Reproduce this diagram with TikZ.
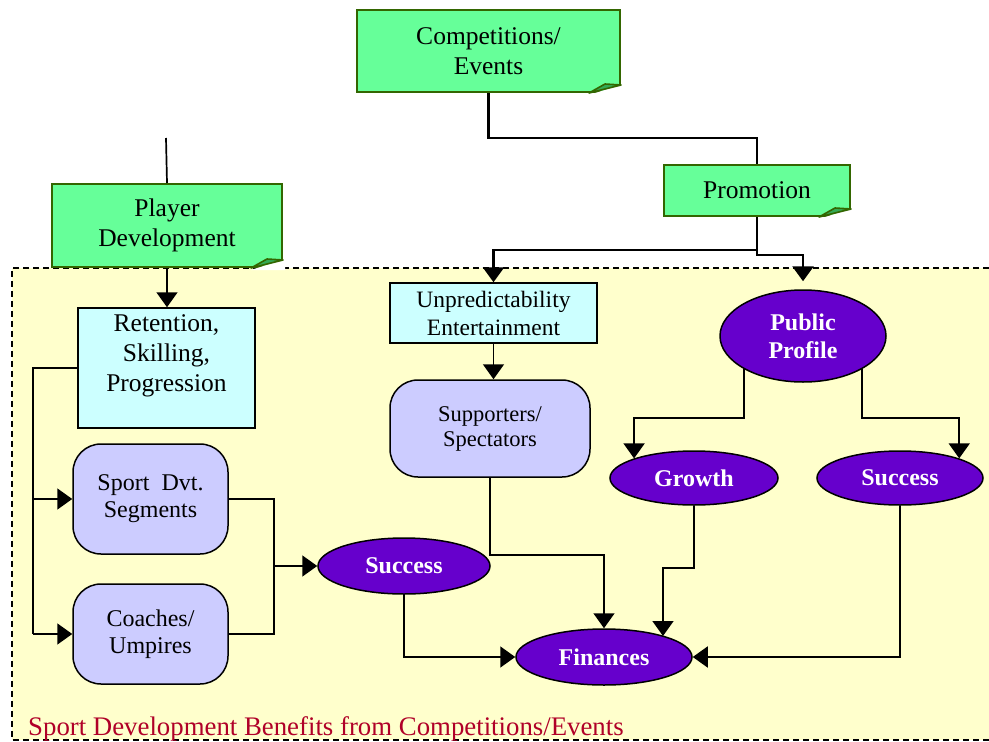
\documentclass[tikz,border=0pt]{standalone}
\usepackage{fontspec}
\setmainfont{Liberation Serif}
\usetikzlibrary{arrows.meta,shapes.geometric,calc}
\definecolor{notegreen}{HTML}{66FF99}
\definecolor{noteedge}{HTML}{336600}
\definecolor{flapgreen}{HTML}{33AA55}
\definecolor{panelyellow}{HTML}{FFFFCC}
\definecolor{cyanbox}{HTML}{CCFFFF}
\definecolor{lilac}{HTML}{CCCCFF}
\definecolor{deepviolet}{HTML}{6600CC}
\definecolor{captionred}{HTML}{B00028}

% dog-eared bottom-right corner of a note box
\newcommand\notefold[1]{%
  \fill[white] ([xshift=-32pt,yshift=-2pt]#1.south east) -- ([xshift=2pt,yshift=-2pt]#1.south east)
    -- ([xshift=2pt,yshift=9pt]#1.south east) -- cycle;
  \draw[noteedge, line width=1.6pt, fill=flapgreen, line join=round]
    ([xshift=-32pt]#1.south east) -- ([yshift=8pt]#1.south east)
    -- ([xshift=-16pt,yshift=9pt]#1.south east) -- cycle;
}

\begin{document}
\begin{tikzpicture}[x=1pt,y=-1pt,
  note/.style={draw=noteedge, fill=notegreen, line width=2pt, inner sep=0pt, align=center,
    font=\fontsize{25.5}{30}\selectfont},
  infobox/.style={draw=black, fill=cyanbox, line width=1.5pt, inner sep=0pt, align=center},
  softbox/.style={draw=black, fill=lilac, line width=1.5pt, rounded corners=28pt, inner sep=0pt,
    align=center},
  oval/.style={ellipse, draw=black, fill=deepviolet, line width=1.5pt, inner sep=0pt, text=white,
    align=center, font=\fontsize{24}{28}\selectfont\bfseries},
  link/.style={line width=1.7pt},
  mainlink/.style={line width=2.8pt},
  tip/.style={-{Triangle[width=21pt,length=15pt]}},
]
\useasboundingbox (0,0) rectangle (989,742);
\fill[white] (0,0) rectangle (989,742);

% shaded panel
\fill[panelyellow] (12,268) rectangle (989,740);
\draw[line width=1.5pt, dash pattern=on 6pt off 4pt] (989,268) -- (12,268) -- (12,740) -- (989,740);

% note boxes
\node[note, minimum width=263pt, minimum height=82pt] (comp) at (488.5,51) {Competitions/\\Events};
\node[note, minimum width=186pt, minimum height=51pt] (promo) at (757,190.5) {Promotion};
\node[note, minimum width=230pt, minimum height=83pt] (player) at (167,225.5) {Player\\Development};
\notefold{comp}
\notefold{promo}
\notefold{player}

% rectangles
\node[infobox, minimum width=177pt, minimum height=120pt] (ret) at (166.5,368) {};
\node[anchor=north, inner sep=0pt, align=center, font=\fontsize{25.5}{30}\selectfont] (rettext)
  at (166.5,314) {Retention,\\Skilling,\\Progression};
\node[infobox, minimum width=207pt, minimum height=60pt, font=\fontsize{23.5}{28}\selectfont] (unpred)
  at (493.5,313) {Unpredictability\\Entertainment};

% rounded boxes
\node[softbox, minimum width=200pt, minimum height=97pt, font=\fontsize{22.5}{25}\selectfont] (supp)
  at (490,428.5) {Supporters/\\Spectators};
\node[softbox, minimum width=155pt, minimum height=110pt, font=\fontsize{24}{27}\selectfont] (sport)
  at (150.5,499) {Sport\ \ Dvt.\\Segments};
\node[softbox, minimum width=155pt, minimum height=100pt, font=\fontsize{24}{27}\selectfont] (coach)
  at (150.5,634) {Coaches/\\Umpires};

% ellipses
\node[oval, minimum width=172pt, minimum height=56pt] (succA) at (404,566) {Success};
\node[oval, minimum width=176pt, minimum height=56pt] (fin) at (604,657) {Finances};
\node[oval, minimum width=166pt, minimum height=92pt] (pub) at (803,336) {Public\\Profile};
\node[oval, minimum width=168pt, minimum height=54pt] (grow) at (694,478) {Growth};
\node[oval, minimum width=166pt, minimum height=54pt] (succB) at (900,478) {Success};

% caption
\node[anchor=base west, inner sep=0pt, text=captionred, font=\fontsize{26.8}{30}\selectfont] (cap)
  at (28,735) {Sport Development Benefits from Competitions/Events};

% helper points
\coordinate (stub) at (166,138);
\coordinate (split) at (757,250);
\coordinate (busL) at (33,0);
\coordinate (joinA) at (274,566);
\coordinate (lvl) at (0,418);
\coordinate (finTop) at ($(fin.center)+(59,-21)$);

% connectors
\draw[mainlink] (comp.south) -- ++(0,45) -| (promo.north);
\draw[mainlink] (promo.south) -- (split);
\draw[mainlink,tip] (split) -| (unpred.north);
\draw[mainlink,tip,shorten >=8pt] (split) -- ++(0,5) -| (pub.north);

\draw[link] (stub) -- (player.north);
\draw[link,tip] (player.south) -- (player.south |- ret.north);

\draw[link] (ret.west) -- (ret.west -| busL) -- (busL |- coach.west);
\draw[link,tip] (busL |- sport.west) -- (sport.west);
\draw[link,tip] (busL |- coach.west) -- (coach.west);

\draw[link] (sport.east) -| (joinA) |- (coach.east);
\draw[link,tip] (joinA) -- (succA.west);
\draw[link,tip] (succA.south) |- (fin.west);

\draw[link,tip] (unpred.south) -- (unpred.south |- supp.north);
\draw[link,tip] (supp.south) -- ++(0,77) -| (fin.north);

\draw[link,tip] (pub.south west) -- (pub.south west |- lvl) -| (grow.north west);
\draw[link,tip] (pub.south east) -- (pub.south east |- lvl) -| (succB.north east);

\draw[link,tip] (grow.south) -- ++(0,62) -| (finTop);
\draw[link,tip] (succB.south) |- (fin.east);
\end{tikzpicture}
\end{document}
